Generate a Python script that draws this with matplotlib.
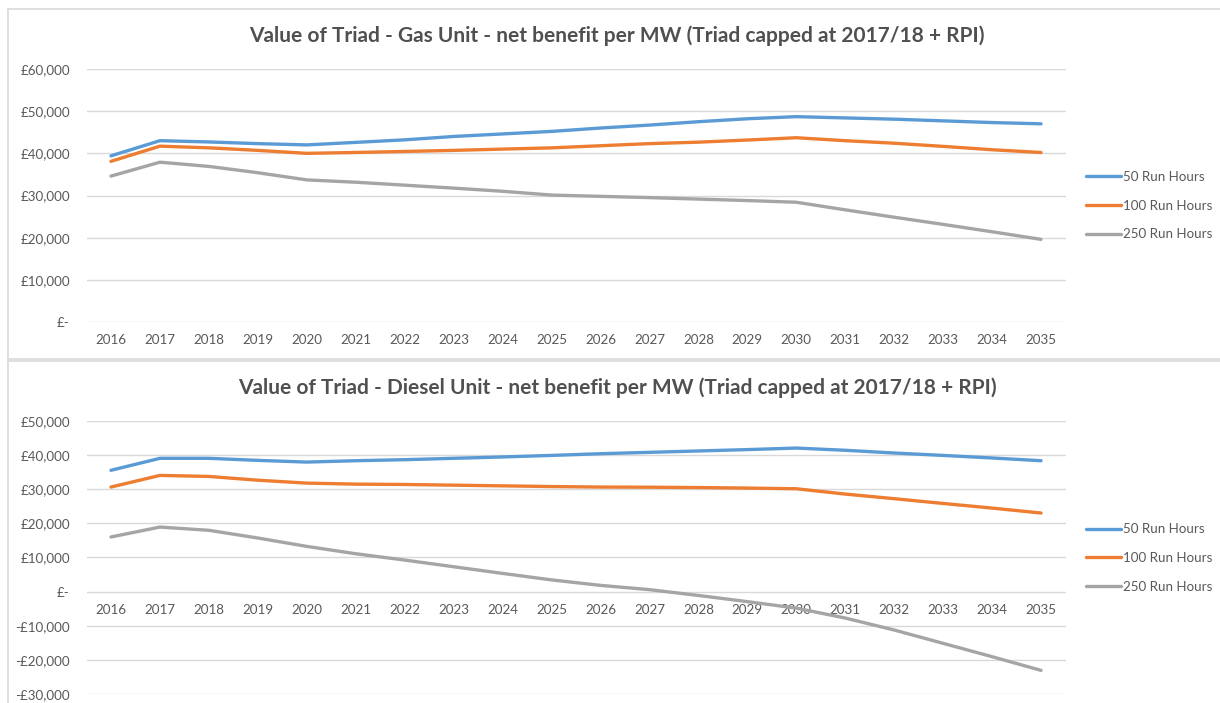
import matplotlib
matplotlib.use("Agg")
import matplotlib.pyplot as plt
from matplotlib.lines import Line2D
from matplotlib.ticker import FuncFormatter, MultipleLocator

plt.rcParams['font.family'] = ['Lato', 'DejaVu Sans']

years = list(range(2016, 2036))
series_names = ["50 Run Hours", "100 Run Hours", "250 Run Hours"]
series_colors = ["#5B9BD5", "#ED7D31", "#A5A5A5"]

gas_title = "Value of Triad - Gas Unit - net benefit per MW (Triad capped at 2017/18 + RPI)"
gas_50 = [39400, 43000, 42700, 42300, 42000, 42600, 43200, 44000, 44600, 45200,
          46000, 46700, 47500, 48200, 48700, 48400, 48100, 47700, 47300, 47000]
gas_100 = [38100, 41700, 41300, 40700, 40000, 40200, 40450, 40700, 41000, 41300,
           41800, 42300, 42650, 43150, 43700, 43000, 42400, 41650, 40850, 40200]
gas_250 = [34600, 37900, 36900, 35400, 33700, 33150, 32450, 31750, 31000, 30100,
           29800, 29500, 29150, 28800, 28400, 26600, 24850, 23150, 21400, 19600]

diesel_title = "Value of Triad - Diesel Unit - net benefit per MW (Triad capped at 2017/18 + RPI)"
diesel_50 = [35500, 39000, 39000, 38400, 37900, 38300, 38600, 39000, 39400, 39850,
             40350, 40750, 41150, 41550, 42000, 41350, 40550, 39850, 39100, 38300]
diesel_100 = [30600, 34000, 33700, 32600, 31750, 31450, 31350, 31150, 30950, 30750,
              30600, 30550, 30450, 30300, 30100, 28550, 27200, 25800, 24450, 23000]
diesel_250 = [16000, 18900, 17950, 15700, 13250, 11100, 9250, 7300, 5350, 3450,
              1850, 600, -1100, -2900, -4800, -7700, -11200, -15100, -19000, -23000]

W, H = 1220, 703
fig = plt.figure(figsize=(W / 100, H / 100), dpi=100)
fig.patch.set_facecolor("white")

TXT = "#595959"
GRID = "#D9D9D9"


def px_axes(left, top, right, bottom):
    return fig.add_axes([left / W, 1 - bottom / H, (right - left) / W, (bottom - top) / H])


def money(v, _pos):
    v = int(round(v))
    if v == 0:
        return "£-"
    if v < 0:
        return "-£{:,}".format(-v)
    return "£{:,}".format(v)


def draw_chart(ax, title, data, ylim, title_y):
    for vals, name, col in zip(data, series_names, series_colors):
        ax.plot(years, vals, color=col, lw=2.4, label=name,
                solid_capstyle="round", solid_joinstyle="round", zorder=3)
    ax.set_xlim(2015.5, 2035.5)
    ax.set_ylim(*ylim)
    ax.yaxis.set_major_locator(MultipleLocator(10000))
    ax.yaxis.set_major_formatter(FuncFormatter(money))
    ax.set_xticks(years)
    ax.set_xticklabels([str(y) for y in years])
    ax.grid(axis="y", color=GRID, lw=1.0, zorder=0)
    for s in ["left", "right", "top"]:
        ax.spines[s].set_visible(False)
    ax.spines["bottom"].set_position(("data", 0))
    ax.spines["bottom"].set_visible(False)
    ax.tick_params(axis="both", length=0, colors=TXT, labelsize=9.6)
    ax.tick_params(axis="y", pad=12)
    ax.tick_params(axis="x", pad=9)
    fig.text(617 / W, 1 - title_y / H, title, ha="center", va="center",
             fontsize=15, fontweight="bold", color="#505050")


def add_legend(ax, center_y):
    ax.legend(loc="center left", bbox_to_anchor=(1074 / W, 1 - center_y / H),
              bbox_transform=fig.transFigure, frameon=False, fontsize=9.6,
              handlelength=2.6, handletextpad=0.15, labelspacing=1.25,
              labelcolor=TXT)


ax1 = px_axes(86.5, 69, 1065.5, 322)
draw_chart(ax1, gas_title, [gas_50, gas_100, gas_250], (0, 60000), 36)
add_legend(ax1, 205.5)

ax2 = px_axes(86.5, 420.7, 1065.5, 694.3)
draw_chart(ax2, diesel_title, [diesel_50, diesel_100, diesel_250], (-30000, 50000), 388)
add_legend(ax2, 558)


def frame_line(xs, ys):
    fig.add_artist(Line2D([x / W for x in xs], [1 - y / H for y in ys],
                          transform=fig.transFigure, color=GRID, lw=1.2))


# chart borders
frame_line([7.5, 1220], [8.5, 8.5])
frame_line([7.5, 7.5], [8.5, 358.5])
frame_line([7.5, 1220], [358.5, 358.5])
frame_line([7.5, 1220], [360.5, 360.5])
frame_line([7.5, 7.5], [360.5, 703])

fig.savefig("out.png", dpi=100, facecolor="white")
